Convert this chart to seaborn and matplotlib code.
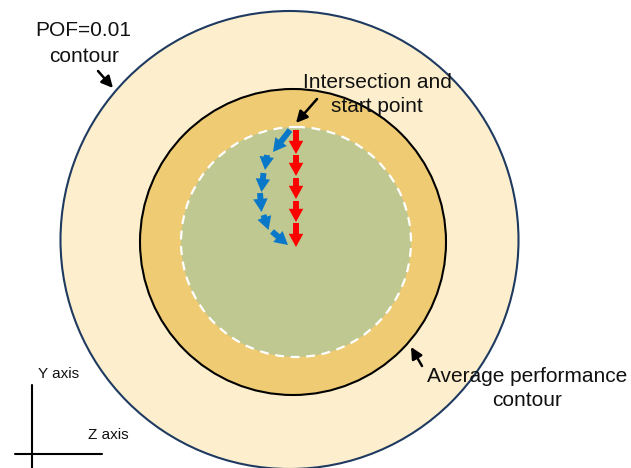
import matplotlib
matplotlib.use("Agg")
import matplotlib.pyplot as plt
import seaborn as sns
import pandas as pd
from matplotlib.patches import Circle

sns.set_theme(style="white")
plt.rcParams["font.family"] = ["Liberation Sans", "DejaVu Sans"]

# circles: centre x, centre y, radius (pixel units, y down)
ring_names = ["POF=0.01", "Average", "Inner"]
ring_cx = [289.5, 293, 296]
ring_cy = [240, 242, 242]
ring_r = [229, 153, 115]
ring_fill = ["#FDEFCE", "#EFCB74", "#BFC890"]
ring_edge = ["#1F3A60", "black", "white"]

# red path (straight down)
red_x0 = [296, 296, 296, 296, 296]
red_y0 = [130, 155, 178, 201, 223]
red_x1 = [296, 296, 296, 296, 296]
red_y1 = [154, 176, 199, 222, 247]

# blue path (curving left)
blue_x0 = [290, 267, 263.5, 260, 263.5, 272]
blue_y0 = [130, 155, 173, 193, 215, 231.5]
blue_x1 = [273, 265, 261.5, 261.5, 268.5, 288]
blue_y1 = [152, 170, 192, 212, 230, 245]

# coordinate axis glyph
axis_df = pd.DataFrame({
    "x": [32, 32, 15, 102],
    "y": [385, 468, 454, 454],
    "seg": ["Y", "Y", "Z", "Z"],
})

fig = plt.figure(figsize=(6.31, 4.68), dpi=100)
ax = fig.add_axes([0, 0, 1, 1])

for cx, cy, r, fc, ec, name in zip(ring_cx, ring_cy, ring_r, ring_fill, ring_edge, ring_names):
    if name == "Inner":
        ax.add_patch(Circle((cx, cy), r, facecolor=fc, edgecolor=ec, lw=1.6,
                            linestyle=(0, (4, 3)), zorder=2))
    else:
        ax.add_patch(Circle((cx, cy), r, facecolor=fc, edgecolor=ec, lw=1.5, zorder=1))

thick = "simple,head_length=1.0,head_width=1.1,tail_width=0.45"
for xa, ya, xb, yb in zip(red_x0, red_y0, red_x1, red_y1):
    ax.annotate("", xy=(xb, yb), xytext=(xa, ya),
                arrowprops=dict(arrowstyle=thick, fc="#FF0000", ec="none", lw=0,
                                mutation_scale=9.5, shrinkA=0, shrinkB=0), zorder=4)

for xa, ya, xb, yb in zip(blue_x0, blue_y0, blue_x1, blue_y1):
    ax.annotate("", xy=(xb, yb), xytext=(xa, ya),
                arrowprops=dict(arrowstyle=thick, fc="#0A78C8", ec="none", lw=0,
                                mutation_scale=9.5, shrinkA=0, shrinkB=0), zorder=4)

sns.lineplot(data=axis_df, x="x", y="y", units="seg", estimator=None,
             color="black", lw=1.5, sort=False, ax=ax, legend=False)

black_arrow = dict(arrowstyle="-|>", color="black", lw=1.8, mutation_scale=17,
                   shrinkA=0, shrinkB=0)
txt = dict(fontsize=15, color="#111111", ha="center", va="center")

ax.text(83, 31, "POF=0.01", **txt)
ax.text(84, 56, "contour", **txt)
ax.annotate("", xy=(113, 88), xytext=(98, 71), arrowprops=black_arrow)

ax.text(377, 82, "Intersection and", **txt)
ax.text(377, 106, "start point", **txt)
ax.annotate("", xy=(296, 123), xytext=(317, 99), arrowprops=black_arrow, zorder=5)

ax.text(527, 376, "Average performance", **txt)
ax.text(527, 400, "contour", **txt)
ax.annotate("", xy=(411, 347), xytext=(422, 366), arrowprops=black_arrow, zorder=5)

ax.text(59, 374, "Y axis", fontsize=11, color="#111111", ha="center", va="center")
ax.text(108, 435, "Z axis", fontsize=11, color="#111111", ha="center", va="center")

ax.set_xlim(0, 631)
ax.set_ylim(468, 0)
ax.set_aspect("auto")
ax.axis("off")

fig.savefig("out.png", dpi=100, facecolor="white")
